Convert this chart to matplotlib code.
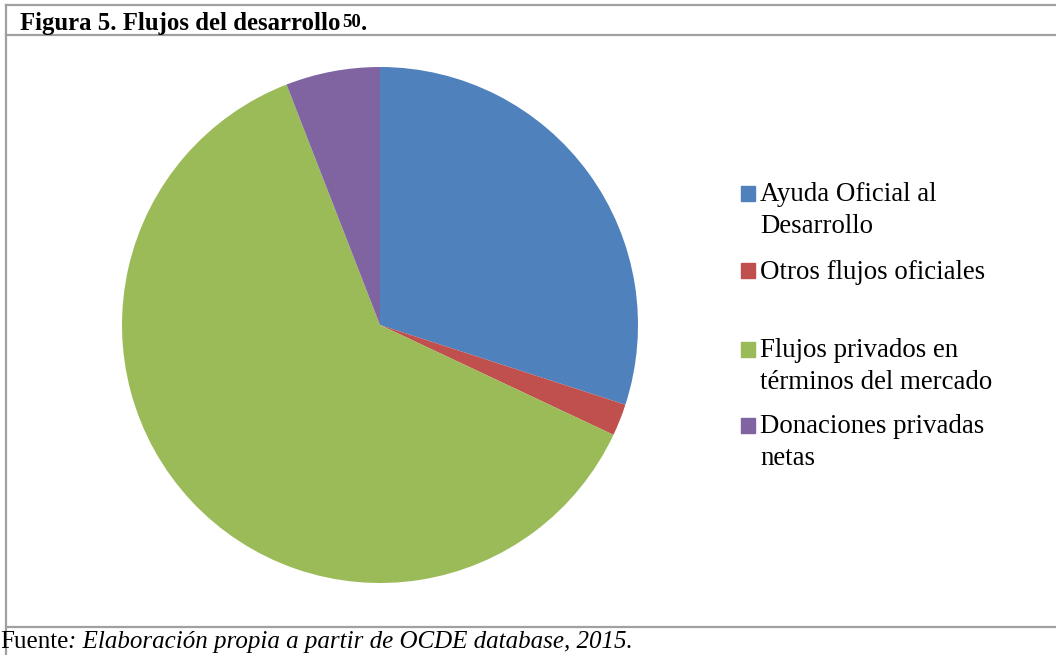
import matplotlib
matplotlib.use("Agg")
import matplotlib.pyplot as plt
from matplotlib.patches import Rectangle
from matplotlib.lines import Line2D

labels = ["Ayuda Oficial al\nDesarrollo", "Otros flujos oficiales",
          "Flujos privados en\ntérminos del mercado", "Donaciones privadas\nnetas"]
values = [30.0, 2.0, 62.1, 5.9]
colors = ["#4F81BD", "#C0504D", "#9BBB59", "#8064A2"]
title = "Figura 5. Flujos del desarrollo"
title_sup = "50"
source_prefix = "Fuente"
source_text = ": Elaboración propia a partir de OCDE database, 2015."

W, H = 1056, 655
fig = plt.figure(figsize=(W / 100, H / 100), dpi=100)
fig.patch.set_facecolor("white")

def fx(x): return x / W
def fy(y): return 1 - y / H

serif = ["Liberation Serif", "DejaVu Serif"]
gray = "#A0A0A0"

# frame lines
for (x0, y0, x1, y1) in [(6, 5, W, 5), (6, 35, W, 35), (6, 627, W, 627), (6, 5, 6, H)]:
    fig.add_artist(Line2D([fx(x0), fx(x1)], [fy(y0), fy(y1)], color=gray, lw=1.6,
                          transform=fig.transFigure))

# title
t = fig.text(fx(20), fy(30), title, fontsize=17.8, fontweight="bold", family=serif,
             va="baseline", ha="left")
fig.canvas.draw()
bb = t.get_window_extent()
s = fig.text(bb.x1 / W + 0.002, fy(30) + 0.005, title_sup, fontsize=13.5, fontweight="bold",
             family=serif, va="baseline", ha="left")
fig.canvas.draw()
sup_bb = s.get_window_extent()
fig.text(sup_bb.x1 / W, fy(30), ".", fontsize=17.8, fontweight="bold", family=serif,
         va="baseline", ha="left")

# pie
cx, cy, r = 380, 325, 258
ax = fig.add_axes([fx(cx - r), fy(cy + r), 2 * r / W, 2 * r / H])
ax.pie(values, colors=colors, startangle=90, counterclock=False, radius=1,
       wedgeprops=dict(linewidth=0))
ax.set_xlim(-1, 1)
ax.set_ylim(-1, 1)
ax.set_aspect("equal")
ax.axis("off")

# legend
sq_tops = [186, 263, 342, 418]
baselines = [201, 279, 357, 433]
line_gap = 32
for lab, col, st, bl in zip(labels, colors, sq_tops, baselines):
    fig.add_artist(Rectangle((fx(741), fy(st + 15)), 14 / W, 15 / H, color=col,
                             transform=fig.transFigure))
    for i, line in enumerate(lab.split("\n")):
        fig.text(fx(760), fy(bl + i * line_gap), line, fontsize=19.4, family=serif,
                 va="baseline", ha="left", color="#000000")

# footer
f1 = fig.text(fx(0), fy(648), source_prefix, fontsize=18, family=serif,
              va="baseline", ha="left")
fig.canvas.draw()
b1 = f1.get_window_extent()
fig.text(b1.x1 / W, fy(648), source_text, fontsize=18, family=serif, style="italic",
         va="baseline", ha="left")

fig.savefig("out.png", dpi=100, facecolor="white")
